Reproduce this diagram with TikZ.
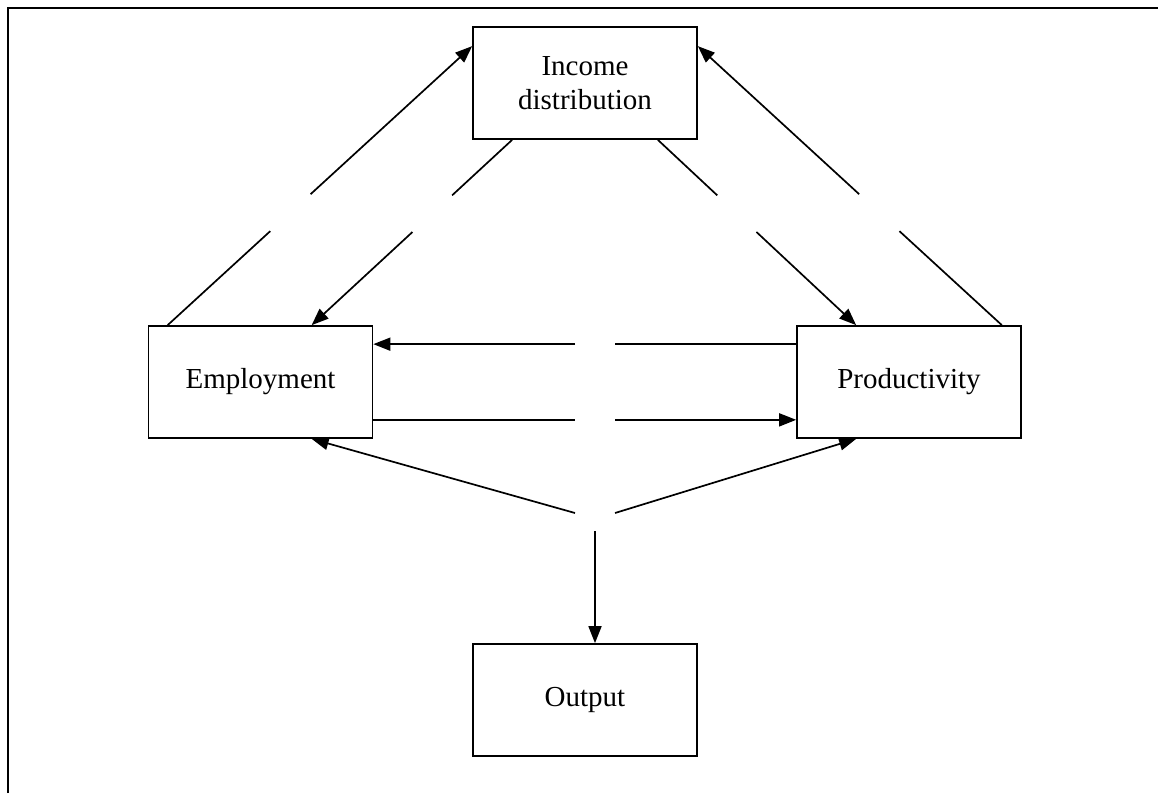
\documentclass[tikz,border=0pt]{standalone}
\usepackage{fontspec}
\setmainfont{Liberation Serif}
\usetikzlibrary{calc,arrows.meta}
\begin{document}
\begin{tikzpicture}[x=1pt,y=-1pt,
  box/.style={draw,line width=1.7pt,minimum width=224pt,minimum height=112pt,inner sep=0pt,align=center,font=\fontsize{29}{34}\selectfont},
  link/.style={line width=1.7pt},
  arr/.style={link,-{Triangle[length=17pt,width=13pt]}}]
\useasboundingbox (0,0) rectangle (1158,793);
\draw[line width=2.5pt] (8,793) -- (8,8) -- (1158,8);
% boxes
\node[box] (inc) at (585,83) {Income\\distribution};
\node[box] (emp) at (260.5,382) {Employment};
\node[box] (prod) at (909,382) {Productivity};
\node[box] (out) at (585,700) {Output};
% helper coordinates
\coordinate (gapL) at (575,0);
\coordinate (gapR) at (615,0);
\coordinate (hubL) at (575,513);
\coordinate (hubR) at (615,513);
\coordinate (hubD) at (595,531);
% diagonal ends
\coordinate (e1) at ($(emp.north west)+(20,0)$);
\coordinate (i1) at ($(inc.north west)+(0,20)$);
\coordinate (i2) at ($(inc.south west)+(40,0)$);
\coordinate (e2) at ($(emp.north west)+(164,0)$);
\coordinate (p1) at ($(prod.north east)+(-20,0)$);
\coordinate (i3) at ($(inc.north east)+(0,20)$);
\coordinate (i4) at ($(inc.south east)+(-40,0)$);
\coordinate (p2) at ($(prod.north west)+(60,0)$);
% Employment -> Income
\draw[link] (e1) -- ($(e1)!0.337!(i1)$);
\draw[arr] ($(e1)!0.4695!(i1)$) -- (i1);
% Income -> Employment
\draw[link] (i2) -- ($(i2)!0.2995!(e2)$);
\draw[arr] ($(i2)!0.4973!(e2)$) -- (e2);
% Productivity -> Income
\draw[link] (p1) -- ($(p1)!0.337!(i3)$);
\draw[arr] ($(p1)!0.4695!(i3)$) -- (i3);
% Income -> Productivity
\draw[link] (i4) -- ($(i4)!0.2995!(p2)$);
\draw[arr] ($(i4)!0.4973!(p2)$) -- (p2);
% horizontal arrows
\coordinate (pt) at ($(prod.north west)+(0,19)$);
\coordinate (et) at ($(emp.north east)+(0,19)$);
\draw[link] (pt) -- (gapR |- pt);
\draw[arr] (gapL |- et) -- (et);
\coordinate (eb) at ($(emp.south east)+(0,-19)$);
\coordinate (pb) at ($(prod.south west)+(0,-19)$);
\draw[link] (eb) -- (gapL |- eb);
\draw[arr] (gapR |- pb) -- (pb);
% lower fork
\draw[arr] (hubL) -- ($(emp.south west)+(164,0)$);
\draw[arr] (hubR) -- ($(prod.south west)+(60,0)$);
\draw[arr] (hubD) -- (hubD |- out.north);
\end{tikzpicture}
\end{document}
